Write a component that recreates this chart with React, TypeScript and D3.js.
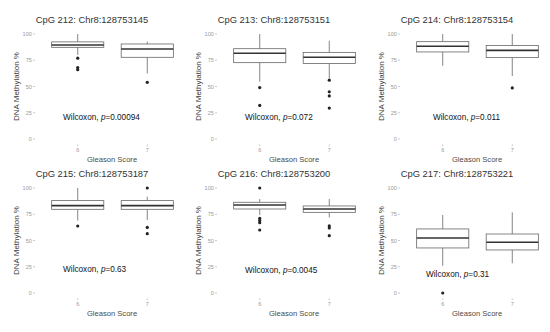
import React from "react";
import * as d3 from "d3";

const titles = [
  "CpG 212: Chr8:128753145",
  "CpG 213: Chr8:128753151",
  "CpG 214: Chr8:128753154",
  "CpG 215: Chr8:128753187",
  "CpG 216: Chr8:128753200",
  "CpG 217: Chr8:128753221",
];
const pValues = ["0.00094", "0.072", "0.011", "0.63", "0.0045", "0.31"];
const groups = ["6", "7"];
const yTicks = [0, 25, 50, 75, 100];

// [panel][group]
const lowerWhisker = [[80, 62.5], [54.6, 57.8], [69.8, 60], [69, 69.5], [74.3, 72], [26, 28.3]];
const q1 = [[87.3, 77.8], [72.7, 72], [82.9, 77.5], [79.7, 79.7], [80, 76.8], [42.9, 41]];
const median = [[89.5, 85.7], [81.6, 77.8], [88.3, 84.4], [83.2, 83.2], [83.8, 80], [52.4, 48.3]];
const q3 = [[92.5, 90.5], [86, 82.5], [92.7, 89], [88, 88], [86.4, 82.9], [61, 56.2]];
const upperWhisker = [[100, 92.7], [100, 93.6], [100, 100], [100, 91.7], [89.5, 89.5], [74.3, 76.8]];
const outliers = [
  [[77, 68, 66], [54]],
  [[49, 32], [56, 45, 41, 29.5]],
  [[], [48.6]],
  [[63.8], [100, 62.5, 56.5]],
  [[100, 71, 69, 67, 60], [64, 62, 54.6]],
  [[0], []],
];
const labelX = [0.79, 0.79, 0.86, 0.79, 0.79, 0.76];
const labelY = [21, 20.6, 20.6, 22.9, 21.9, 18];

const W = 550;
const H = 332;
const colX = [0, 182, 365];
const rowY = [0, 154];

function Panel({ i }: { i: number }) {
  const ox = colX[i % 3];
  const oy = rowY[Math.floor(i / 3)];
  const x = d3.scalePoint<string>().domain(groups).range([36, 189]).padding(0.6);
  const y = d3.scaleLinear().domain([0, 100]).range([139, 34]);
  const step = x.step();
  const bw = step * 0.75;
  const xl = d3.scaleLinear().domain([0.4, 2.6]).range([36, 189]);
  const font = "Liberation Sans, Arial, sans-serif";
  return (
    <g transform={`translate(${ox},${oy})`}>
      <text x={92} y={22.5} textAnchor="middle" fontFamily={font} fontSize={9.4} fill="#333">
        {titles[i]}
      </text>
      {yTicks.map((t) => (
        <g key={t}>
          <text x={31.8} y={y(t) + 2} textAnchor="end" fontFamily={font} fontSize={5.5} fill="#999">
            {t}
          </text>
          <line x1={33} x2={35} y1={y(t)} y2={y(t)} stroke="#aaa" strokeWidth={0.6} />
        </g>
      ))}
      {groups.map((g) => (
        <g key={g}>
          <line x1={x(g)!} x2={x(g)!} y1={144.3} y2={146.3} stroke="#aaa" strokeWidth={0.6} />
          <text x={x(g)!} y={152} textAnchor="middle" fontFamily={font} fontSize={5.5} fill="#999">
            {g}
          </text>
        </g>
      ))}
      <text
        transform={`translate(18.5,86.5) rotate(-90)`}
        textAnchor="middle"
        fontFamily={font}
        fontSize={8}
        fill="#3a3a3a"
      >
        DNA Methylation %
      </text>
      <text x={112} y={161.8} textAnchor="middle" fontFamily={font} fontSize={7.6} fill="#4a4a4a">
        Gleason Score
      </text>
      {groups.map((g, j) => {
        const cx = x(g)!;
        return (
          <g key={g}>
            <line x1={cx} x2={cx} y1={y(upperWhisker[i][j])} y2={y(q3[i][j])} stroke="#666" strokeWidth={0.8} />
            <line x1={cx} x2={cx} y1={y(q1[i][j])} y2={y(lowerWhisker[i][j])} stroke="#666" strokeWidth={0.8} />
            <rect
              x={cx - bw / 2}
              y={y(q3[i][j])}
              width={bw}
              height={y(q1[i][j]) - y(q3[i][j])}
              fill="white"
              stroke="#666"
              strokeWidth={0.8}
            />
            <line
              x1={cx - bw / 2}
              x2={cx + bw / 2}
              y1={y(median[i][j])}
              y2={y(median[i][j])}
              stroke="#333"
              strokeWidth={1.6}
            />
            {outliers[i][j].map((v, k) => (
              <circle key={k} cx={cx} cy={y(v)} r={1.6} fill="#222" />
            ))}
          </g>
        );
      })}
      <text x={xl(labelX[i])} y={y(labelY[i]) + 3} fontFamily={font} fontSize={8.2} fill="#111">
        Wilcoxon, <tspan fontStyle="italic">p</tspan>={pValues[i]}
      </text>
    </g>
  );
}

export default function App() {
  return (
    <svg width={W} height={H} style={{ position: "absolute", left: 0, top: 0, background: "white" }}>
      <rect width={W} height={H} fill="white" />
      {titles.map((_, i) => (
        <Panel key={i} i={i} />
      ))}
    </svg>
  );
}
